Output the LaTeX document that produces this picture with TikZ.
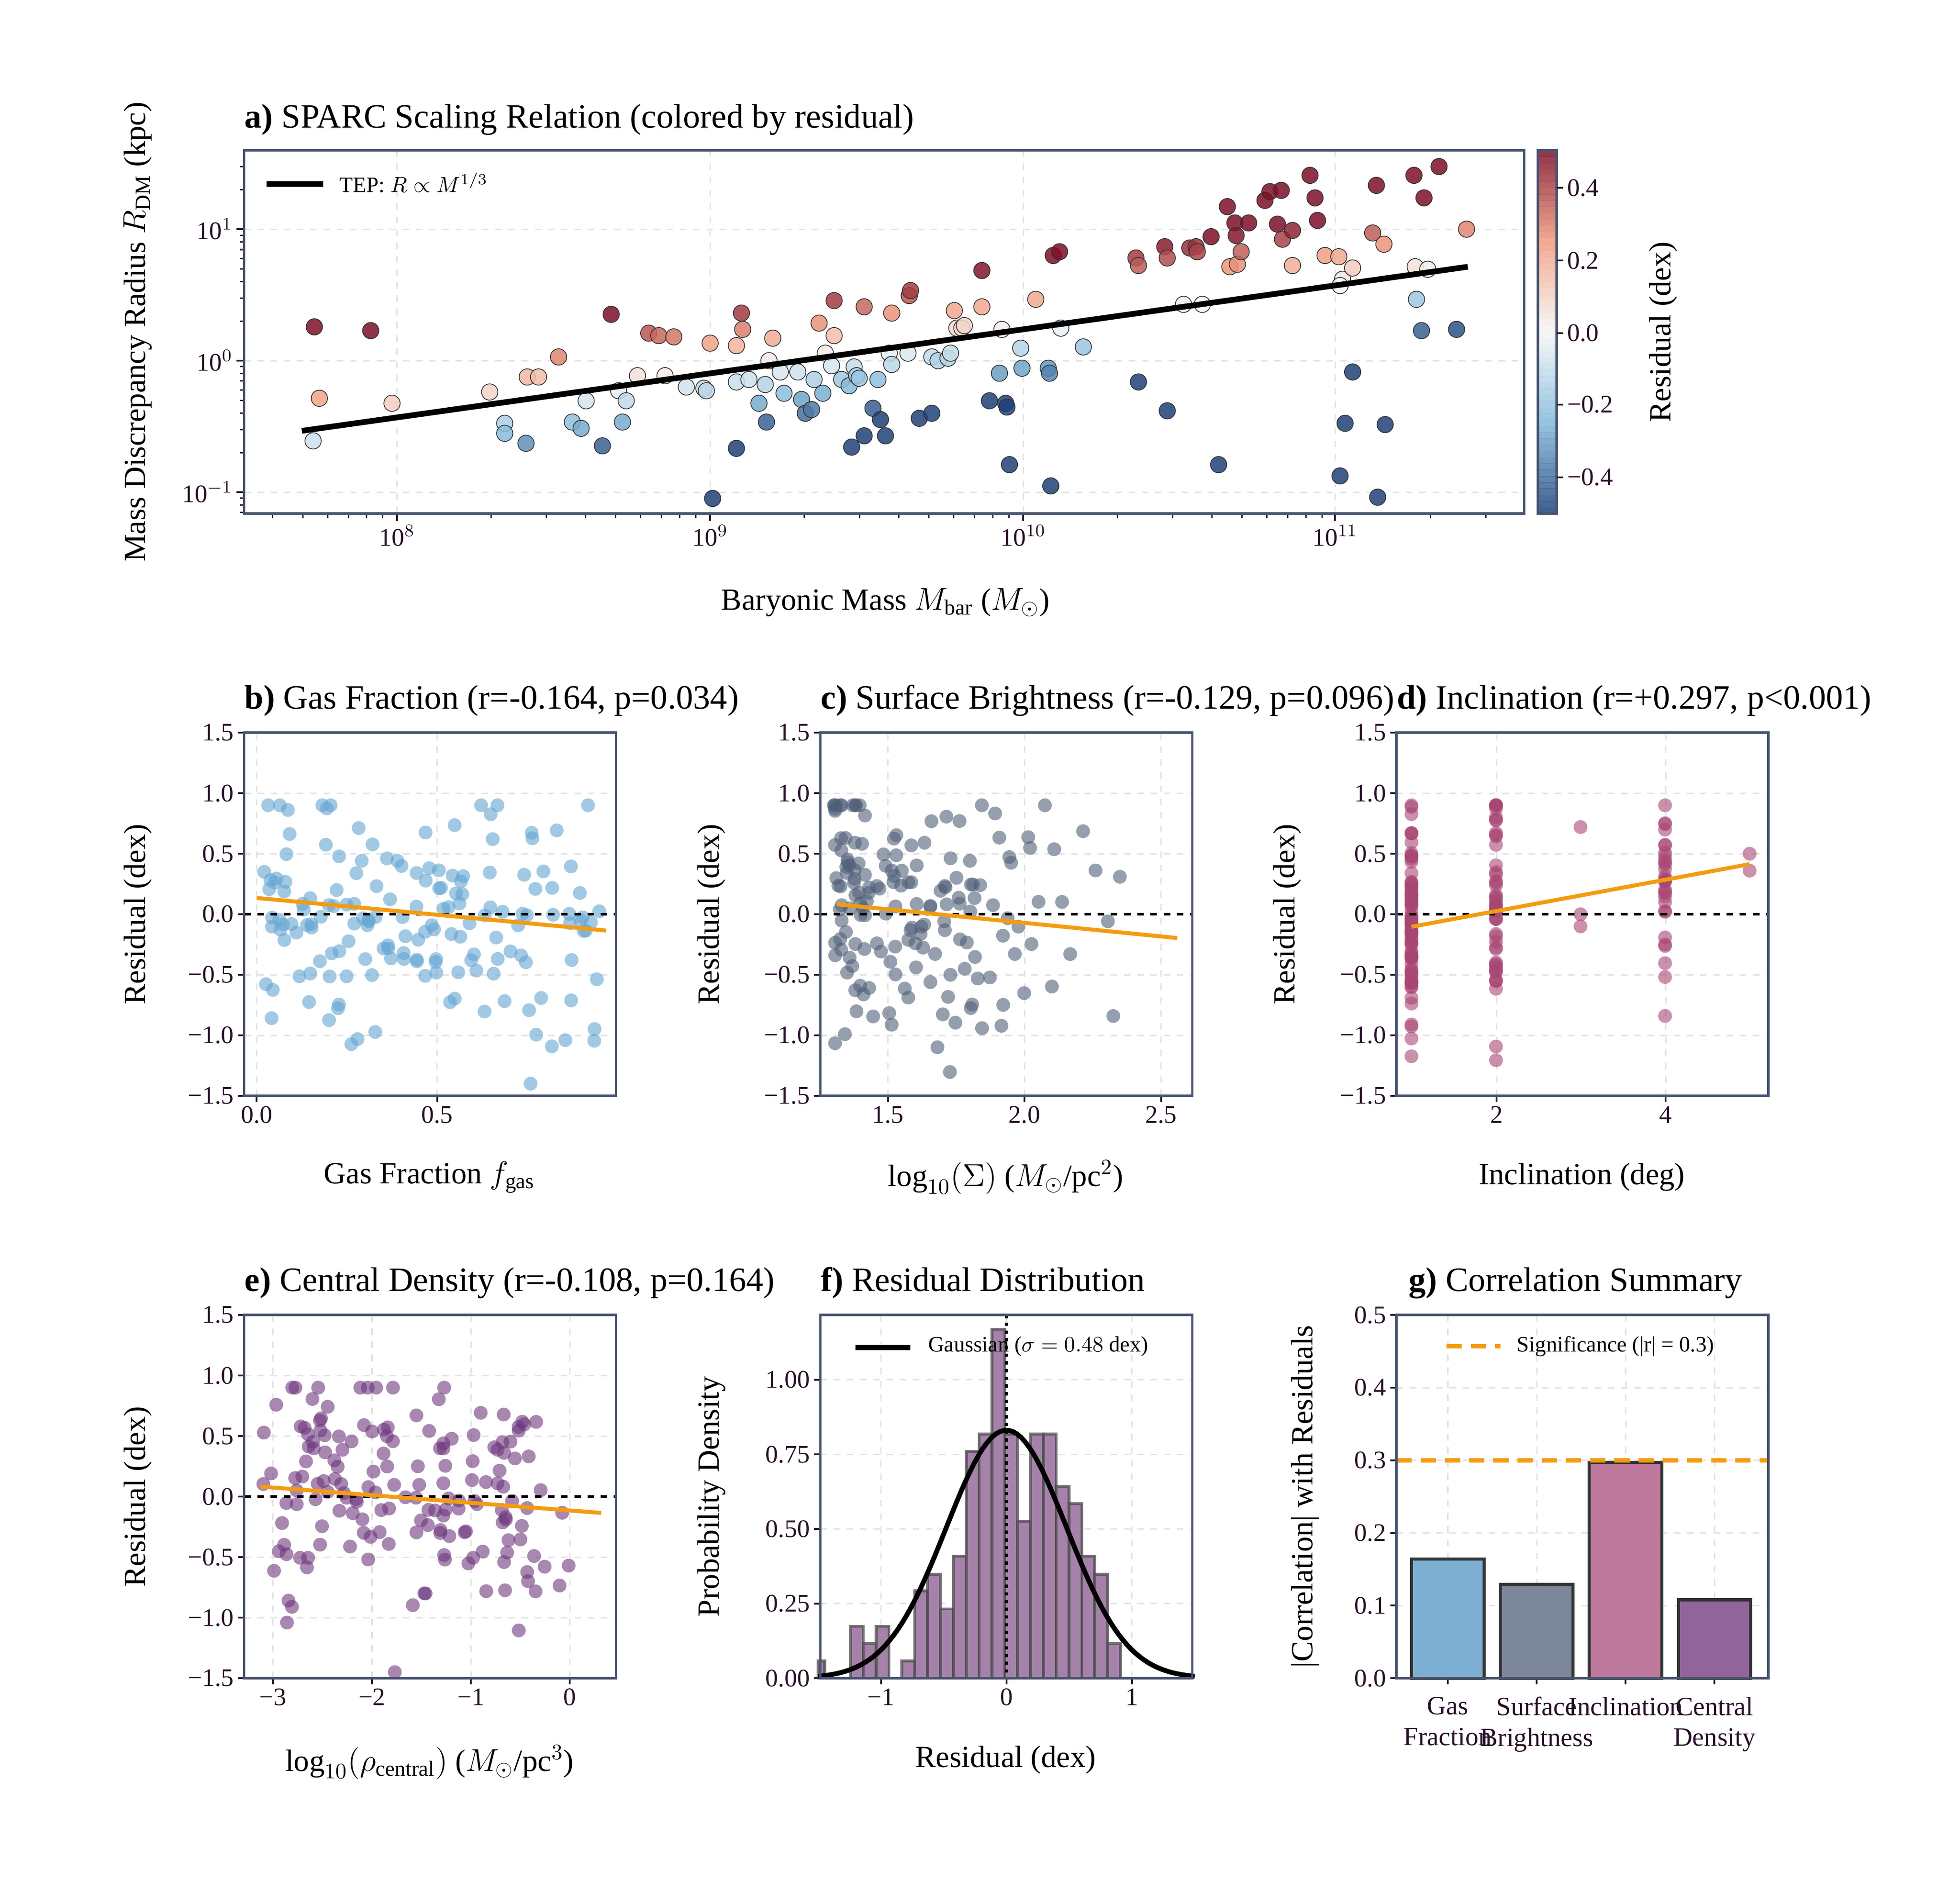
\documentclass[tikz,border=0pt]{standalone}
\usepackage{fontspec}
\setmainfont{Liberation Serif}
\usetikzlibrary{calc}
\definecolor{axcol}{RGB}{72,84,112}
\definecolor{tickcol}{RGB}{40,15,40}
\definecolor{gridcol}{RGB}{226,226,226}
\definecolor{fitcol}{RGB}{243,156,18}
\definecolor{gascol}{RGB}{100,165,210}
\definecolor{sbcol}{RGB}{80,95,120}
\definecolor{inccol}{RGB}{168,70,115}
\definecolor{cdcol}{RGB}{110,55,125}
\definecolor{rdpos}{RGB}{125,15,40}
\definecolor{poshalf}{RGB}{240,155,125}
\definecolor{rdmid}{RGB}{246,246,246}
\definecolor{neghalf}{RGB}{130,185,218}
\definecolor{rdneg}{RGB}{30,65,120}
\definecolor{histcol}{RGB}{166,130,171}
\definecolor{gbar1}{RGB}{125,175,210}
\definecolor{gbar2}{RGB}{125,135,155}
\definecolor{gbar3}{RGB}{190,120,155}
\definecolor{gbar4}{RGB}{145,100,155}
\tikzset{
  frame/.style={draw=axcol, line width=1.1pt},
  gridline/.style={draw=gridcol, dashed, line width=0.6pt},
  tickline/.style={draw=tickcol, line width=0.8pt},
  ticklab/.style={text=tickcol, font=\fontsize{11.5}{13}\selectfont, inner sep=1.5pt},
  axlab/.style={font=\fontsize{14}{16}\selectfont},
  ptitle/.style={font=\fontsize{15.5}{18}\selectfont, anchor=base west, inner sep=0pt},
  leglab/.style={font=\fontsize{10}{12}\selectfont, anchor=west},
  fitline/.style={draw=fitcol, line width=1.8pt},
  zeroline/.style={draw=black, dashed, line width=1.1pt},
  dot/.style={fill=#1, fill opacity=0.6, draw=none},
}
% colour of a residual on the RdBu map
\newcommand\setrescol[1]{%
  \pgfmathsetmacro\rp{min(abs(#1)/0.5,1)*100}%
  \pgfmathsetmacro\rpa{min(2*\rp,100)}%
  \pgfmathsetmacro\rpb{max(2*\rp-100,0)}%
  \ifdim#1pt>0pt
    \colorlet{cc}{poshalf!\rpa!rdmid}\colorlet{cc}{rdpos!\rpb!cc}%
  \else
    \colorlet{cc}{neghalf!\rpa!rdmid}\colorlet{cc}{rdneg!\rpb!cc}%
  \fi}
% residual y axis: #1 left x, #2 top y
\newcommand\resyaxis[2]{%
  \foreach \v/\t in {1.5/1.5,1.0/1.0,0.5/0.5,0.0/0.0,-0.5/−0.5,-1.0/−1.0,-1.5/−1.5}{
    \pgfmathsetmacro\yy{#2+145-\v*96.67}
    \draw[gridline] (#1,\yy) -- ++(297,0);
    \draw[tickline] (#1,\yy) -- ++(-5,0) node[left, ticklab] {\t};
  }}
% x tick: #1 x, #2 bottom y, #3 label, #4 top y
\newcommand\xtick[4]{%
  \draw[gridline] (#1,#2) -- (#1,#4);
  \draw[tickline] (#1,#2) -- ++(0,5) node[below, ticklab] {#3};}

\begin{document}
\begin{tikzpicture}[x=0.02cm, y=-0.02cm]
\useasboundingbox (0,0) rectangle (1565,1502.6);

%%% a) scaling relation
\foreach \xx in {317,567,817,1066} \draw[gridline] (\xx,120) -- (\xx,410);
\foreach \yy in {183,288,393} \draw[gridline] (195,\yy) -- (1217,\yy);
\foreach \d in {7,...,11}{
  \foreach \k in {2,...,9}{
    \pgfmathsetmacro\xx{317+(\d-8)*250+250*log10(\k)}
    \ifdim\xx pt>195pt \ifdim\xx pt<1217pt
      \draw[tickline, line width=0.6pt] (\xx,410) -- ++(0,3.5);
    \fi\fi
  }}
\foreach \e in {-2,...,1}{
  \foreach \k in {2,...,9}{
    \pgfmathsetmacro\yy{288-\e*105-105*log10(\k)}
    \ifdim\yy pt>120pt \ifdim\yy pt<410pt
      \draw[tickline, line width=0.6pt] (195,\yy) -- ++(-3.5,0);
    \fi\fi
  }}
\foreach \xx/\t in {317/8,567/9,817/10,1066/11}
  \draw[tickline] (\xx,410) -- ++(0,6) node[below, ticklab] {10$^{\t}$};
\foreach \yy/\t in {183/1,288/0,393/{-1}}
  \draw[tickline] (195,\yy) -- ++(-6,0) node[left, ticklab] {10$^{\t}$};

\foreach \x/\y in {250/352,251/261,255/318,296/264,313/322,391/313,403/338,403/346,420/354,421/301,
  430/301,446/285,457/337,468/320,464/342,481/356,488/251,494/312,500/320,497/337,509/300,518/266,
  526/268,538/269,531/300,548/309,562/310,564/312,567/274,569/398,588/276,593/263,588/305,592/250,
  588/358,598/303,606/322,611/307,614/288,612/337,617/270,623/297,626/314,637/297,640/319,643/330,
  648/327,650/303,654/258,657/314,659/282,664/292,666/240,666/268,672/303,678/308,680/357,682/293,
  684/300,686/302,690/348,690/245,697/326,701/303,703/335,707/348,710/282,712/250,712/291,725/282,
  726/236,727/232,734/334,744/330,744/285,749/288,757/286,759/282,762/248,764/262,768/262,770/260,
  784/245,784/216,790/320,798/298,800/263,803/322,804/325,806/371,815/278,816/294,827/239,837/294,
  838/298,839/388,841/204,846/201,847/262,865/277,907/206,909/212,909/305,930/197,932/206,932/328,
  945/243,950/198,955/197,956/201,960/243,967/189,973/371,980/165,982/213,986/178,987/188,988/211,
  991/201,997/178,1010/160,1014/153,1020/179,1024/191,1023/152,1032/184,1032/212,1046/140,1050/158,
  1052/176,1058/204,1069/205,1070/380,1072/223,1070/228,1074/338,1080/214,1080/297,1096/186,1099/148,
  1100/397,1105/195,1106/339,1129/140,1130/213,1131/239,1135/264,1137/158,1140/215,1149/133,1163/263,1171/183}{
  \pgfmathsetmacro\yl{344-(\x-241)/931*131}
  \pgfmathsetmacro\res{(\yl-\y)/105}
  \setrescol{\res}
  \draw[fill=cc, fill opacity=0.85, draw=black!80, line width=0.35pt] (\x,\y) circle (6.5);
}
\draw[black, line width=2.6pt] (241,344) -- (1172,213);
\draw[frame] (195,120) rectangle (1217,410);
\draw[black, line width=2.6pt] (213,147) -- (258,147);
\node[leglab] at (265,146) {TEP: $R \propto M^{1/3}$};
\node[ptitle] at (195,102) {\textbf{a)} SPARC Scaling Relation (colored by residual)};
\node[axlab] at (707,481) {Baryonic Mass $M_{\mathrm{bar}}$ ($M_{\odot}$)};
\node[axlab, rotate=90] at (110,265) {Mass Discrepancy Radius $R_{\mathrm{DM}}$ (kpc)};
% colour bar
\foreach \i in {0,...,57}{
  \pgfmathsetmacro\cv{0.5-(\i+0.5)/58}
  \setrescol{\cv}
  \fill[cc, fill opacity=0.85] (1228,{120+\i*5}) rectangle (1243,{125.3+\i*5});
}
\draw[frame] (1228,120) rectangle (1243,410);
\foreach \yy/\t in {150/0.4,208/0.2,266/0.0,323/−0.2,381/−0.4}
  \draw[tickline] (1243,\yy) -- ++(5,0) node[right, ticklab] {\t};
\node[axlab, rotate=90] at (1328,265) {Residual (dex)};

%%% b) gas fraction
\resyaxis{195}{585}
\xtick{205}{875}{0.0}{585}
\xtick{349}{875}{0.5}{585}
\pgfmathsetseed{11}
\foreach \i in {1,...,165}{
  \pgfmathsetmacro\fx{0.02+0.93*rnd}
  \pgfmathsetmacro\rr{max(-1.45,min(0.9,(rnd+rnd+rnd+rnd-2)*0.9+0.12-0.25*\fx))}
  \fill[dot=gascol] ({205+288*\fx},{730-96.67*\rr}) circle (5.5);
}
\draw[zeroline] (195,730) -- (492,730);
\draw[fitline] (205,717) -- (484,743);
\draw[frame] (195,585) rectangle (492,875);
\node[ptitle] at (195,566) {\textbf{b)} Gas Fraction (r=-0.164, p=0.034)};
\node[axlab] at (343,940) {Gas Fraction $f_{\mathrm{gas}}$};
\node[axlab, rotate=90] at (110,730) {Residual (dex)};

%%% c) surface brightness
\resyaxis{655}{585}
\xtick{709}{875}{1.5}{585}
\xtick{818}{875}{2.0}{585}
\xtick{927}{875}{2.5}{585}
\pgfmathsetseed{23}
\foreach \i in {1,...,165}{
  \pgfmathsetmacro\fx{1.3+1.25*rnd*rnd}
  \pgfmathsetmacro\rr{max(-1.45,min(0.9,(rnd+rnd+rnd+rnd-2)*0.9+0.1-0.2*(\fx-1.3)))}
  \fill[dot=sbcol] ({709+218*(\fx-1.5)},{730-96.67*\rr}) circle (5.5);
}
\draw[zeroline] (655,730) -- (952,730);
\draw[fitline] (668,722) -- (940,749);
\draw[frame] (655,585) rectangle (952,875);
\node[ptitle] at (655,566) {\textbf{c)} Surface Brightness (r=-0.129, p=0.096)};
\node[axlab] at (803,940) {$\log_{10}(\Sigma)$ ($M_{\odot}$/pc$^{2}$)};
\node[axlab, rotate=90] at (568,730) {Residual (dex)};

%%% d) inclination
\resyaxis{1115}{585}
\xtick{1195}{875}{2}{585}
\xtick{1330}{875}{4}{585}
\pgfmathsetseed{37}
\foreach \n/\c/\s in {1/80/-0.05, 2/50/0.05, 4/30/0.25}{
  \foreach \i in {1,...,\c}{
    \pgfmathsetmacro\rr{max(-1.45,min(0.9,(rnd+rnd+rnd+rnd-2)*0.9+\s))}
    \fill[dot=inccol] ({1127+67.5*(\n-1)},{730-96.67*\rr}) circle (5.5);
  }}
\foreach \n/\rr in {3/0.72,3/0.0,3/-0.1,5/0.5,5/0.36}
  \fill[dot=inccol] ({1127+67.5*(\n-1)},{730-96.67*\rr}) circle (5.5);
\draw[zeroline] (1115,730) -- (1412,730);
\draw[fitline] (1127,740) -- (1397,690);
\draw[frame] (1115,585) rectangle (1412,875);
\node[ptitle] at (1115,566) {\textbf{d)} Inclination (r=+0.297, p<0.001)};
\node[axlab] at (1263,940) {Inclination (deg)};
\node[axlab, rotate=90] at (1028,730) {Residual (dex)};

%%% e) central density
\resyaxis{195}{1050}
\xtick{218}{1340}{−3}{1050}
\xtick{297}{1340}{−2}{1050}
\xtick{376}{1340}{−1}{1050}
\xtick{455}{1340}{0}{1050}
\pgfmathsetseed{53}
\foreach \i in {1,...,165}{
  \pgfmathsetmacro\fx{-3.15+2.7*rnd+0.75*rnd*rnd}
  \pgfmathsetmacro\rr{max(-1.45,min(0.9,(rnd+rnd+rnd+rnd-2)*0.9+0.02-0.06*(\fx+1.5)))}
  \fill[dot=cdcol] ({455+79*\fx},{1195-96.67*\rr}) circle (5.5);
}
\draw[zeroline] (195,1195) -- (492,1195);
\draw[fitline] (208,1187) -- (480,1208);
\draw[frame] (195,1050) rectangle (492,1340);
\node[ptitle] at (195,1031) {\textbf{e)} Central Density (r=-0.108, p=0.164)};
\node[axlab] at (343,1407) {$\log_{10}(\rho_{\mathrm{central}})$ ($M_{\odot}$/pc$^{3}$)};
\node[axlab, rotate=90] at (110,1195) {Residual (dex)};

%%% f) residual distribution
\foreach \v/\t in {0/0.00,0.25/0.25,0.5/0.50,0.75/0.75,1.0/1.00}{
  \pgfmathsetmacro\yy{1340-238.3*\v}
  \draw[gridline] (655,\yy) -- (952,\yy);
  \draw[tickline] (655,\yy) -- ++(-5,0) node[left, ticklab] {\t};
}
\xtick{703.4}{1340}{−1}{1050}
\xtick{803.6}{1340}{0}{1050}
\xtick{903.8}{1340}{1}{1050}
\foreach \h [count=\k from 0] in {0.058,0,0,0.174,0.116,0.174,0,0.058,0.293,0.348,0.232,0.409,
  0.76,0.818,1.169,0.818,0.525,0.818,0.818,0.643,0.585,0.409,0.348,0.116}{
  \pgfmathsetmacro\xa{max(-1.5,-1.5505+0.1025*\k)}
  \pgfmathsetmacro\xb{-1.5505+0.1025*(\k+1)}
  \ifdim\h pt>0pt
    \draw[fill=histcol, draw=black!70, draw opacity=0.75, line width=1.3pt]
      ({803.6+100.2*\xa},1340) rectangle ({803.6+100.2*\xb},{1340-238.3*\h});
  \fi
}
\draw[black, line width=1.3pt, dash pattern=on 1.5pt off 2pt] (803.6,1050) -- (803.6,1340);
\draw[black, line width=2.2pt, domain=-1.5:1.5, samples=90]
  plot ({803.6+100.2*\x},{1340-238.3*0.831*exp(-\x*\x/0.4608)});
\draw[frame] (655,1050) rectangle (952,1340);
\draw[black, line width=2.2pt] (683,1076) -- (727,1076);
\node[leglab] at (735,1075) {Gaussian ($\sigma = 0.48$ dex)};
\node[ptitle] at (655,1031) {\textbf{f)} Residual Distribution};
\node[axlab] at (803,1405) {Residual (dex)};
\node[axlab, rotate=90] at (568,1195) {Probability Density};

%%% g) correlation summary
\foreach \v/\t in {0/0.0,0.1/0.1,0.2/0.2,0.3/0.3,0.4/0.4,0.5/0.5}{
  \pgfmathsetmacro\yy{1340-580*\v}
  \draw[gridline] (1115,\yy) -- (1412,\yy);
  \draw[tickline] (1115,\yy) -- ++(-5,0) node[left, ticklab] {\t};
}
\foreach \xx/\v/\c in {1156/0.164/gbar1,1227/0.129/gbar2,1298/0.297/gbar3,1369/0.108/gbar4}{
  \draw[gridline] (\xx,1050) -- (\xx,1340);
  \draw[tickline] (\xx,1340) -- ++(0,5);
  \draw[fill=\c, draw=black!80, line width=1.4pt] ({\xx-29},1340) rectangle ({\xx+29},{1340-580*\v});
}
\draw[fitcol, line width=2pt, dash pattern=on 7pt off 4pt] (1115,1166) -- (1412,1166);
\draw[frame] (1115,1050) rectangle (1412,1340);
\draw[fitcol, line width=2pt, dash pattern=on 7pt off 4pt] (1155,1075) -- (1198,1075);
\node[leglab] at (1205,1075) {Significance (|r| = 0.3)};
\foreach \xx/\t in {1156/{Gas\\Fraction},1227/{Surface\\Brightness},1298/{Inclination\\\strut},1369/{Central\\Density}}
  \node[ticklab, font=\fontsize{12}{14}\selectfont, align=center, anchor=north] at (\xx,1352) {\t};
\node[ptitle, anchor=base] at (1258,1031) {\textbf{g)} Correlation Summary};
\node[axlab, rotate=90] at (1042,1195) {|Correlation| with Residuals};
\end{tikzpicture}
\end{document}
